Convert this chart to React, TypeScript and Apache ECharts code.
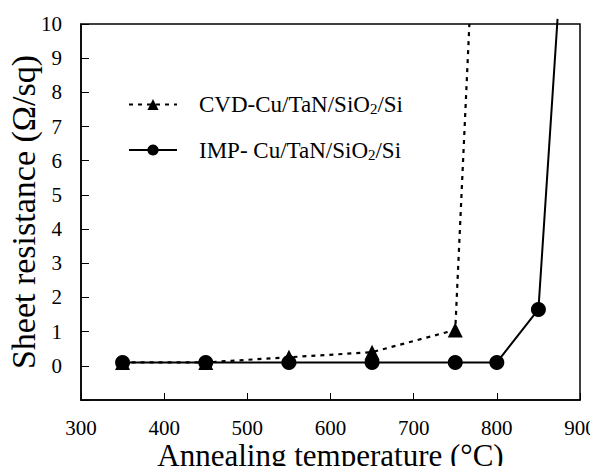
import React, { useEffect, useRef } from "react";
import * as echarts from "echarts";

const cvdTemps = [350, 450, 550, 650, 750, 767];
const cvdValues = [0.1, 0.1, 0.25, 0.4, 1.05, 10];
const impTemps = [350, 450, 550, 650, 750, 800, 850, 873];
const impValues = [0.1, 0.1, 0.1, 0.1, 0.1, 0.1, 1.65, 10.15];
const yTickLabels = ["0", "1", "2", "3", "4", "5", "6", "7", "8", "9", "10"];
const seriesNames = ["CVD-Cu/TaN/SiO2/Si", "IMP- Cu/TaN/SiO2/Si"];
const xTitle = "Annealing temperature (°C)";
const yTitle = "Sheet resistance (Ω/sq)";

const FONT = "Liberation Serif";

export default function App() {
  const ref = useRef<HTMLDivElement>(null);
  useEffect(() => {
    if (!ref.current) return;
    const chart = echarts.init(ref.current, undefined, { renderer: "svg" });
    const mk = (xs: number[], ys: number[]) =>
      xs.map((x, i) =>
        ys[i] >= 10 ? { value: [x, ys[i]], symbol: "none" } : { value: [x, ys[i]] }
      );
    chart.setOption({
      animation: false,
      backgroundColor: "#fff",
      textStyle: { fontFamily: FONT, color: "#000" },
      grid: {
        left: 81,
        right: 18,
        top: 24,
        bottom: 74,
        show: true,
        borderColor: "#000",
        borderWidth: 1.5,
        outerBoundsMode: "none",
        containLabel: false,
      },
      legend: {
        orient: "vertical",
        left: 123,
        top: 88,
        itemWidth: 48,
        itemHeight: 14,
        itemGap: 22,
        data: seriesNames,
        formatter: (name: string) => {
          const [pre, post] = name.split("SiO2");
          return `{sp|}{a|${pre}SiO}{s|2}{a|${post}}`;
        },
        textStyle: {
          color: "#000",
          fontFamily: FONT,
          fontSize: 23,
          rich: {
            sp: { width: 17 },
            a: { fontFamily: FONT, fontSize: 23, color: "#000" },
            s: { fontFamily: FONT, fontSize: 15, color: "#000", verticalAlign: "bottom", padding: [9, 0, 0, 0] },
          },
        },
      },
      xAxis: {
        type: "value",
        min: 300,
        max: 900,
        interval: 100,
        name: xTitle,
        nameLocation: "middle",
        nameGap: 40,
        nameMoveOverlap: false,
        nameTextStyle: { fontFamily: FONT, fontSize: 31, color: "#000" },
        axisLine: { show: true, onZero: false, lineStyle: { color: "#000", width: 1.5 } },
        axisTick: { show: true, inside: true, length: 7, lineStyle: { color: "#000" } },
        axisLabel: { fontFamily: FONT, fontSize: 21, color: "#000", margin: 17 },
        splitLine: { show: false },
      },
      yAxis: {
        type: "value",
        min: -1,
        max: 10,
        interval: 1,
        name: yTitle,
        nameLocation: "middle",
        nameGap: 41,
        nameMoveOverlap: false,
        nameTextStyle: { fontFamily: FONT, fontSize: 34, color: "#000" },
        axisLine: { show: true, onZero: false, lineStyle: { color: "#000", width: 1.5 } },
        axisTick: { show: true, inside: true, length: 8, lineStyle: { color: "#000" } },
        axisLabel: {
          fontFamily: FONT,
          fontSize: 21,
          color: "#000",
          margin: 19,
          formatter: (v: number) => (v >= 0 ? yTickLabels[Math.round(v)] : ""),
        },
        splitLine: { show: false },
      },
      series: [
        {
          name: seriesNames[0],
          type: "line",
          data: mk(cvdTemps, cvdValues),
          symbol: "triangle",
          symbolSize: 15,
          itemStyle: { color: "#000" },
          lineStyle: { color: "#000", width: 2.2, type: [4, 5] },
          clip: false,
          z: 2,
        },
        {
          name: seriesNames[1],
          type: "line",
          data: mk(impTemps, impValues),
          symbol: "circle",
          symbolSize: 15,
          itemStyle: { color: "#000" },
          lineStyle: { color: "#000", width: 2 },
          clip: false,
          z: 3,
        },
      ],
    });
    return () => chart.dispose();
  }, []);
  return <div ref={ref} style={{ width: 598, height: 474, margin: -8 }} />;
}
